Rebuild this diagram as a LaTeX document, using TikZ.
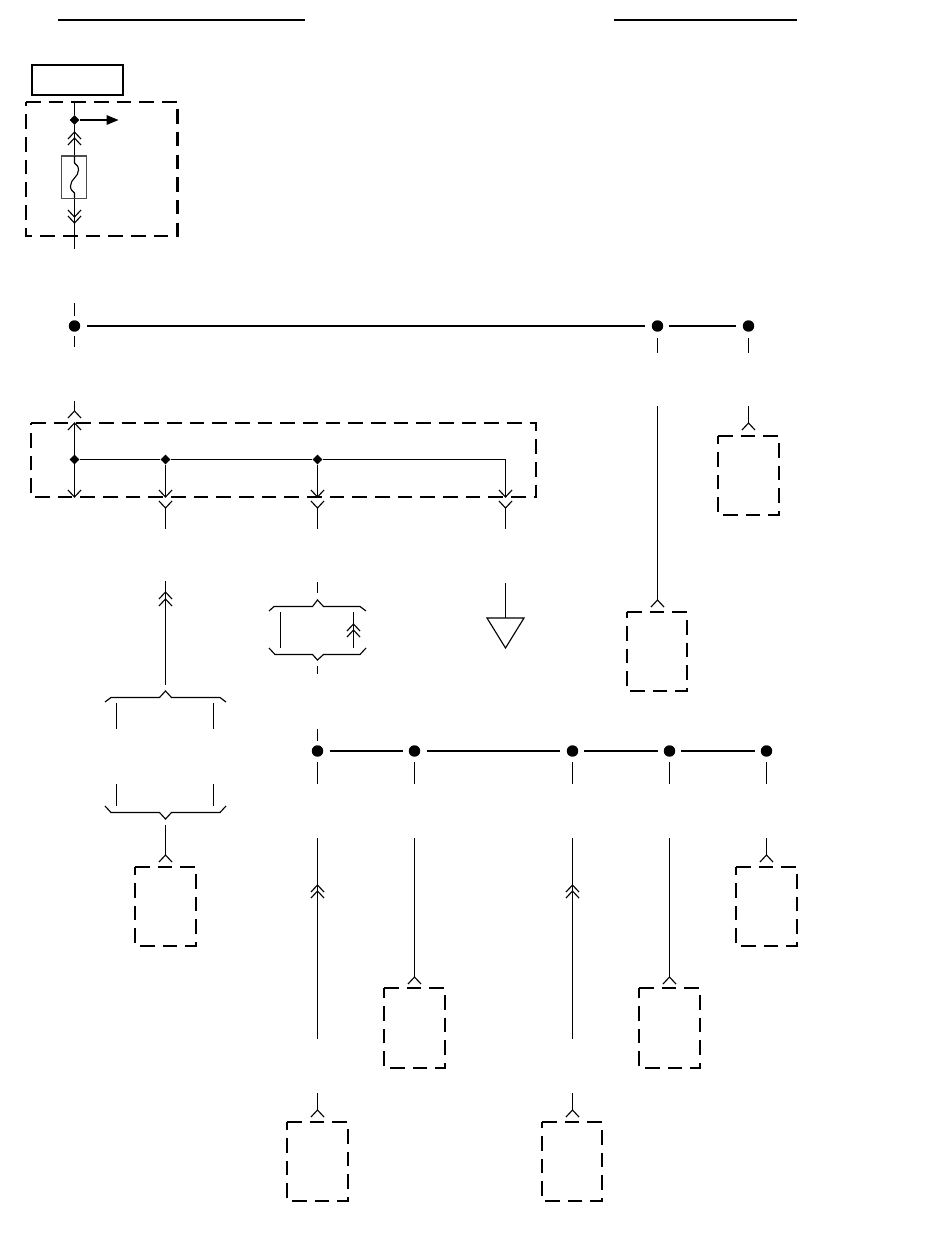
\documentclass[tikz,border=0pt]{standalone}
\usetikzlibrary{shapes.geometric}
\tikzset{
  wire/.style={line width=0.85pt,black},
  heavy/.style={line width=1.5pt,black},
  dbox/.style={line width=2.15pt,black,dash pattern=on 10.9pt off 6.1pt},
  dot/.style={circle,fill=black,inner sep=0pt,minimum size=8.6pt},
  jct/.style={diamond,fill=black,inner sep=0pt,minimum size=7.5pt}
}
% up chevron with its apex at (x,y)
\newcommand{\chu}[2]{\draw[wire] (#1-6.5,#2+7) -- (#1,#2) -- (#1+6.5,#2+7);}
% down chevron with its apex at (x,y)
\newcommand{\chd}[2]{\draw[wire] (#1-6.5,#2-7) -- (#1,#2) -- (#1+6.5,#2-7);}
\newcommand{\dashedbox}[4]{\draw[dbox] (#1-0.5,#2) -- (#3-0.5,#2) -- (#3-0.5,#4) -- (#1-0.5,#4) -- cycle;}
\begin{document}
\begin{tikzpicture}[x=0.75pt,y=-0.75pt]
\useasboundingbox (0,0) rectangle (950,1254);
\begin{scope}[shift={(0.5,0)}]
% header rules
\draw[heavy] (57.5,20) -- (304.5,20);
\draw[heavy] (613.5,20) -- (796.5,20);
% top box and fuse block
\node[draw=black,line width=1.6pt,minimum width=68pt,minimum height=22pt,inner sep=0pt] (title) at (77,80) {};
\dashedbox{26}{102}{177.5}{236}
\node[jct] (j0) at (74,120) {};
\coordinate (a0) at (118,120);
\draw[wire] (74,102) -- (j0) -- (74,249);
\draw[heavy] (j0) -- (108,120);
\fill (106,115) -- (a0) -- (106,125) -- cycle;
\chu{74}{132}\chu{74}{138}
\node[draw=black!70,line width=1pt,fill=white,minimum width=18.4pt,minimum height=32pt,inner sep=0pt] (fuse) at (73.5,177.3) {};
\draw[wire] (74,156) -- (74,163) .. controls (76,165) and (78,166) .. (78,170) .. controls (78,177) and (70,179) .. (70,186) .. controls (70,190) and (72,191) .. (74,193) -- (74,198);
\chd{74}{217}\chd{74}{223}
% first bus
\node[dot] (b1) at (74,326) {};
\node[dot] (b2) at (657,326) {};
\node[dot] (b3) at (748,326) {};
\draw[heavy] (86.5,326) -- (644.5,326);
\draw[heavy] (668.5,326) -- (735.5,326);
\draw[wire] (74,303) -- (74,316);
\draw[wire] (74,336) -- (74,347);
\draw[wire] (657,338) -- (657,353);
\draw[wire] (748,338) -- (748,353);
% splice block
\dashedbox{31}{423}{536}{497}
\draw[wire] (74,401) -- (74,411);
\chu{74}{411}\chu{74}{423}
\draw[wire] (74,423) -- (74,497);
\node[jct] (s1) at (74,459.5) {};
\node[jct] (s2) at (165,459.5) {};
\node[jct] (s3) at (317,459.5) {};
\draw[wire] (s1) -- (s2) -- (s3) -- (505,459.5) -- (505,497);
\draw[wire] (s2) -- (165,497);
\draw[wire] (s3) -- (317,497);
\chd{74}{497}\chd{165}{497}\chd{317}{497}\chd{505}{497}
\foreach \x in {165,317,505}{
  \chd{\x}{508}
  \draw[wire] (\x,508) -- (\x,529);
}
% left branch
\draw[wire] (165,581) -- (165,685);
\chu{165}{592}\chu{165}{599}
\draw[wire] (104.5,702) -- (110.5,697.5) -- (159,697.5) -- (165,691) -- (171,697.5) -- (219.5,697.5) -- (225.5,702);
\draw[wire] (116,703) -- (116,729);
\draw[wire] (213,703) -- (213,729);
\draw[wire] (116,784) -- (116,806);
\draw[wire] (213,784) -- (213,806);
\draw[wire] (104.5,806) -- (110.5,812.5) -- (159,812.5) -- (165,819) -- (171,812.5) -- (219.5,812.5) -- (225.5,806);
\draw[wire] (165,825) -- (165,855);
\chu{165}{855}
\dashedbox{135}{867}{196}{946}
% middle branch
\draw[wire] (317,582) -- (317,593);
\draw[wire] (268.5,611) -- (273.5,606.5) -- (312,606.5) -- (317,600) -- (323,606.5) -- (359.5,606.5) -- (365.5,611);
\draw[wire] (280,612) -- (280,648);
\draw[wire] (353,612) -- (353,648);
\chu{353}{624}\chu{353}{630}
\draw[wire] (268.5,648) -- (274.5,654.5) -- (312,654.5) -- (317,660) -- (323,654.5) -- (359.5,654.5) -- (365.5,648);
\draw[wire] (317,666) -- (317,674);
% ground
\coordinate (gt) at (505,583);
\coordinate (gl) at (486.5,618);
\coordinate (gr) at (523.5,618);
\coordinate (gb) at (505,648);
\coordinate (gm) at (505,618);
\draw[wire] (gl) -- (gr) -- (gb) -- cycle;
\draw[wire] (gt) -- (gm);
% first bus drops
\draw[wire] (657,406) -- (657,600);
\chu{657}{600}
\dashedbox{627}{612}{687}{691}
\draw[wire] (748,406) -- (748,423);
\chu{748}{423}
\dashedbox{718}{436}{779}{515}
% second bus
\node[dot] (c1) at (317,751) {};
\node[dot] (c2) at (414,751) {};
\node[dot] (c3) at (572,751) {};
\node[dot] (c4) at (669,751) {};
\node[dot] (c5) at (766,751) {};
\draw[wire] (317,729) -- (317,741);
\draw[heavy] (329.5,751) -- (402.5,751);
\draw[heavy] (426.5,751) -- (559.5,751);
\draw[heavy] (583.5,751) -- (657.5,751);
\draw[heavy] (680.5,751) -- (754.5,751);
\foreach \x in {317,414,572,669,766}{
  \draw[wire] (\x,762) -- (\x,784);
  \draw[wire] (\x,838) -- (\x,{\x==317 || \x==572 ? 1039 : (\x==766 ? 855 : 977)});
}
\chu{317}{885}\chu{317}{891}
\chu{572}{885}\chu{572}{891}
\chu{414}{977}\chu{669}{977}\chu{766}{855}
\dashedbox{384}{988}{445}{1068}
\dashedbox{639}{988}{700}{1068}
\dashedbox{736}{867}{797}{946}
\draw[wire] (317,1093) -- (317,1110);
\draw[wire] (572,1093) -- (572,1110);
\chu{317}{1110}\chu{572}{1110}
\dashedbox{287}{1122}{348}{1201}
\dashedbox{542}{1122}{602}{1201}
\end{scope}
\end{tikzpicture}
\end{document}
